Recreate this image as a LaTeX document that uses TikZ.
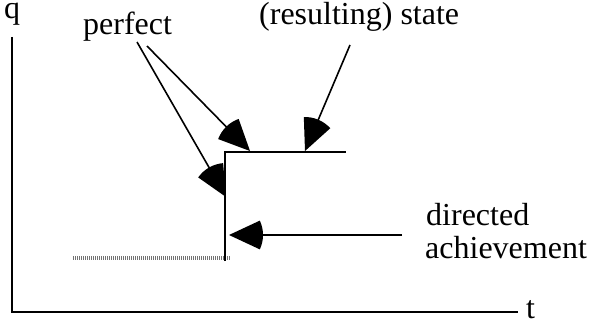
\documentclass[tikz,border=0pt]{standalone}
\usepackage{fontspec}
\setmainfont{Liberation Serif}
\usetikzlibrary{arrows.meta}
\pgfdeclarearrow{
  name = Pie,
  parameters = {\the\pgfarrowlength},
  setup code = {
    \pgfarrowssettipend{0pt}
    \pgfarrowssetbackend{-\pgfarrowlength}
    \pgfarrowssetlineend{-0.7\pgfarrowlength}
    \pgfarrowssavethe\pgfarrowlength
  },
  drawing code = {
    \pgfpathmoveto{\pgfpointorigin}
    \pgfpathlineto{\pgfpointpolar{155}{\pgfarrowlength}}
    \pgfpatharc{155}{205}{\pgfarrowlength}
    \pgfpathclose
    \pgfusepathqfill
  },
  defaults = {length = 33pt}
}
\tikzset{
  lbl/.style={inner sep=0pt, font=\fontsize{32}{33}\selectfont},
  axis/.style={line width=2pt},
  stepline/.style={line width=2pt},
  pointer/.style={line width=1.6pt, -{Pie[length=34pt]}},
  prior/.style={line width=3.5pt, draw=black!55, dash pattern=on 1.2pt off 0.8pt}
}
\begin{document}
\begin{tikzpicture}[x=1pt,y=-1pt]
\useasboundingbox (0,0) rectangle (589,321);
% axes
\coordinate (qtop) at (12,37);
\coordinate (orig) at (12,312);
\coordinate (tend) at (518,312);
\draw[axis] (qtop) -- (orig) -- (tend);
\node[lbl, anchor=base west] (q) at (4,19) {q};
\node[lbl, anchor=base west] (t) at (526,318) {t};
% prior state
\coordinate (p0) at (73,258);
\coordinate (p1) at (230,258);
\draw[prior] (p0) -- (p1);
% step
\coordinate (sbot) at (225,261);
\coordinate (scorner) at (225,152);
\coordinate (send) at (346,152);
\draw[stepline] (sbot) -- (scorner) -- (send);
% labels
\node[lbl, anchor=base west] (perfect) at (83,35) {perfect};
\node[lbl, anchor=base west] (state) at (259,25) {(resulting) state};
\node[lbl, anchor=base west] (directed) at (426,225) {directed};
\node[lbl, anchor=base west] (achv) at (425,258) {achievement};
% arrow sources and targets
\coordinate (pf1) at (147,46);
\coordinate (pf2) at (137,42);
\coordinate (st1) at (350,45);
\coordinate (da1) at (402,235);
\coordinate (tg1) at (250,151);
\coordinate (tg2) at (226,197);
\coordinate (tg3) at (305,151);
\coordinate (tg4) at (229,235);
\draw[pointer] (pf1) -- (tg1);
\draw[pointer] (pf2) -- (tg2);
\draw[pointer] (st1) -- (tg3);
\draw[pointer] (da1) -- (tg4);
\end{tikzpicture}
\end{document}
